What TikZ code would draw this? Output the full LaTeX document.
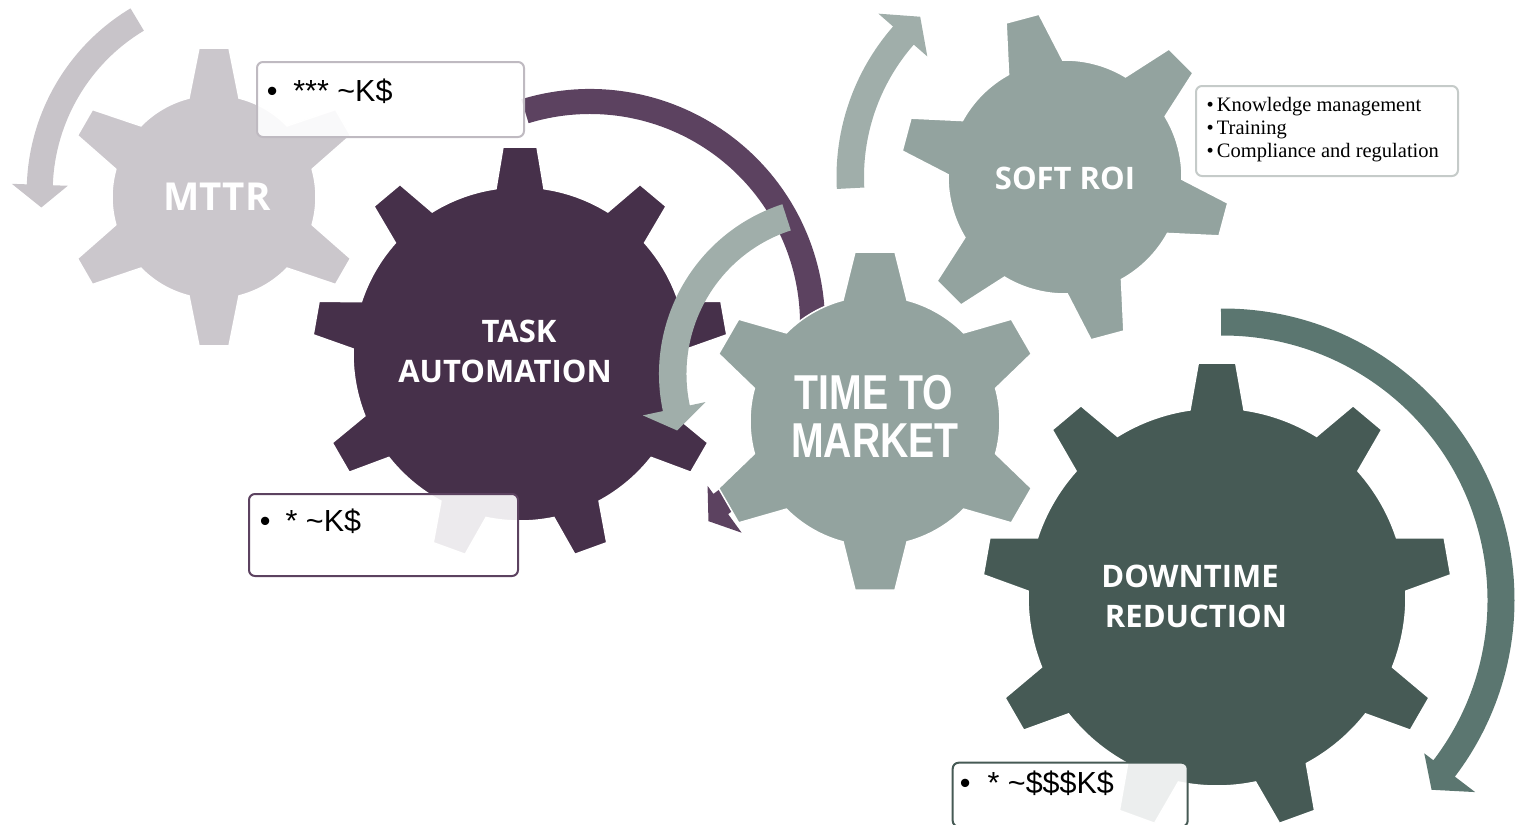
\documentclass[tikz,border=0pt]{standalone}
\usepackage{fontspec}
\setmainfont{Liberation Sans}
\newfontfamily\gearfont{Open Sans}
\newfontfamily\seriffont{Liberation Serif}
\usetikzlibrary{calc}
\definecolor{mttrC}{HTML}{CBC7CC}
\definecolor{mttrA}{HTML}{C8C4C9}
\definecolor{mttrB}{HTML}{BFBAC1}
\definecolor{taskC}{HTML}{46304A}
\definecolor{taskA}{HTML}{5C4260}
\definecolor{ttmC}{HTML}{93A39F}
\definecolor{ttmA}{HTML}{A0AEAA}
\definecolor{softB}{HTML}{C5CBC9}
\definecolor{downC}{HTML}{465A55}
\definecolor{downA}{HTML}{5B7670}
% gear: #1 centre, #2 teeth, #3 first tooth angle, #4 body radius, #5 tip radius,
% #6 tooth half width at base, #7 tooth half width at tip, #8 colour
\newcommand{\gearshape}[8]{%
  \pgfmathsetmacro{\gB}{asin(#6/#4)}%
  \pgfmathsetmacro{\gG}{atan(#7/#5)}%
  \pgfmathsetmacro{\gT}{#5/cos(\gG)}%
  \pgfmathsetmacro{\gS}{360/#2}%
  \pgfmathtruncatemacro{\gL}{#2-1}%
  \begin{scope}[shift={#1}]
    \fill[#8, draw=white, line width=1.5pt] ({#3-\gB}:#4)
      \foreach \k in {0,...,\gL}{
        -- ({#3+\k*\gS-\gB}:#4) -- ({#3+\k*\gS-\gG}:\gT) -- ({#3+\k*\gS+\gG}:\gT) -- ({#3+\k*\gS+\gB}:#4)
        arc[start angle={#3+\k*\gS+\gB}, end angle={#3+(\k+1)*\gS-\gB}, radius=#4]
      } -- cycle;
  \end{scope}}
% curved arrow (inside a shifted scope): #1 outer r, #2 inner r, #3 start angle,
% #4 head base angle, #5 tip angle, #6 outer barb r, #7 inner barb r, #8 tip r, #9 colour
\newcommand{\arcarrow}[9]{%
  \fill[#9] (#3:#1) arc[start angle=#3, end angle=#4, radius=#1] -- (#4:#6) -- (#5:#8)
    -- (#4:#7) -- (#4:#2) arc[start angle=#4, end angle=#3, radius=#2] -- cycle;}
\tikzset{
  gtxt/.style={text=white, inner sep=0pt, font=\gearfont\bfseries\fontsize{31}{39}\selectfont},
  ttxt/.style={text=white, inner sep=0pt, font=\bfseries\fontsize{49}{49}\selectfont},
  boxst/.style={rounded corners=6pt, fill=white, fill opacity=0.9, line width=2pt,
    inner sep=0pt, anchor=north west},
  btxt/.style={inner sep=0pt, anchor=base west, font=\fontsize{30.5}{36}\selectfont},
  stxt/.style={inner sep=0pt, anchor=base west, font=\seriffont\fontsize{20.5}{23}\selectfont}
}
\begin{document}
\begin{tikzpicture}[x=1pt,y=1pt]
\useasboundingbox (0,0) rectangle (1519,-825);
% ---- MTTR ----
\begin{scope}[shift={(240.7,-191.8)}]
  \arcarrow{214}{188}{121}{178}{184.5}{229}{173}{200}{mttrA}
\end{scope}
\gearshape{(214,-197)}{6}{90}{102}{149}{25}{15}{mttrC}
\node[gtxt, font=\gearfont\bfseries\fontsize{38.5}{40}\selectfont] (mttr) at (217,-197) {MTTR};
% ---- purple arrow ----
\begin{scope}[shift={(590,-324)}]
  \arcarrow{235}{210}{107}{-54}{-59}{258}{200}{230}{taskA}
\end{scope}
\node[boxst, draw=mttrB, minimum width=267pt, minimum height=75pt] (b1) at (256,-61) {};
\node[btxt] (b1t) at (266.75,-101) {•\hspace{15.75pt}*** \textasciitilde K\$};
% ---- TASK AUTOMATION ----
\gearshape{(520,-354)}{9}{90}{167}{207}{24}{17}{taskC}
\node[gtxt] (task1) at (519,-331.7) {TASK};
\node[gtxt] (task2) at (505,-371) {AUTOMATION};
% ---- TIME TO MARKET ----
\begin{scope}[shift={(837.5,-374)}]
  \arcarrow{178.5}{151}{108}{192}{199.4}{199}{135}{170}{ttmA}
\end{scope}
\gearshape{(875,-421)}{6}{90}{125}{169}{32}{20}{ttmC}
\node[ttxt] (ttm1) at (874,-392.5) {\scalebox{0.8}[1]{TIME TO}};
\node[ttxt] (ttm2) at (875,-441) {\scalebox{0.8}[1]{MARKET}};
\node[boxst, draw=taskA, minimum width=269pt, minimum height=82pt] (b2) at (248,-493) {};
\node[btxt] (b2t) at (259.75,-531.7) {•\hspace{15pt}* \textasciitilde K\$};
% ---- SOFT ROI ----
\begin{scope}[shift={(1065,-177)}]
  \arcarrow{228.5}{201}{183}{138.8}{132.1}{248}{183}{216}{ttmA}
\end{scope}
\gearshape{(1065,-177)}{6}{105}{117}{164}{28}{17}{ttmC}
\node[gtxt] (soft) at (1065,-178) {SOFT ROI};
\node[boxst, draw=softB, minimum width=262pt, minimum height=90pt] (b3) at (1195,-85) {};
\node[stxt] (b3a) at (1206.5,-111) {•\hspace{3pt}Knowledge management};
\node[stxt] (b3b) at (1206.5,-134.3) {•\hspace{3pt}Training};
\node[stxt] (b3c) at (1206.5,-157.8) {•\hspace{3pt}Compliance and regulation};
% ---- DOWNTIME REDUCTION ----
\begin{scope}[shift={(1223,-600)}]
  \arcarrow{291.5}{264.5}{90.4}{-37.3}{-42.3}{317}{253}{282}{downA}
\end{scope}
\gearshape{(1217,-597)}{9}{90}{189}{234}{27}{18.7}{downC}
\node[gtxt] (down1) at (1190,-576.7) {DOWNTIME};
\node[gtxt] (down2) at (1196,-616.7) {REDUCTION};
\node[boxst, draw=downC, minimum width=235pt, minimum height=64pt] (b4) at (951.7,-761.7) {};
\node[btxt] (b4t) at (959.75,-793) {•\hspace{17pt}* \textasciitilde\$\$\$K\$};
\end{tikzpicture}
\end{document}
